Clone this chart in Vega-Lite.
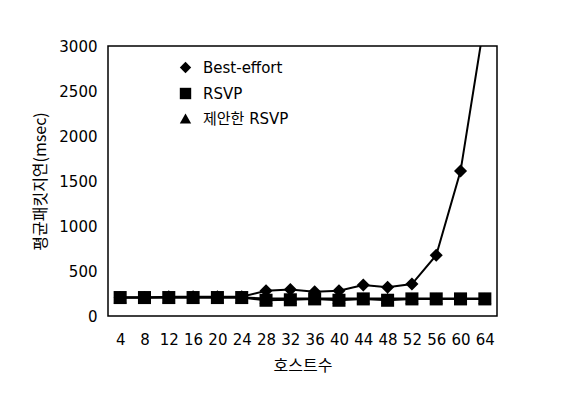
{
  "$schema": "https://vega.github.io/schema/vega-lite/v6.json",
  "width": 389,
  "height": 270,
  "autosize": "none",
  "padding": {"left": 108, "top": 46, "right": 65, "bottom": 91},
  "background": "white",
  "config": {
    "view": {"stroke": "black", "strokeWidth": 1.5},
    "font": "DejaVu Sans, Noto Sans CJK KR",
    "axis": {"grid": false, "domain": false, "ticks": false, "labelFont": "DejaVu Sans", "labelFontSize": 15, "labelColor": "black", "titleFont": "Noto Sans CJK KR", "titleFontSize": 16, "titleFontWeight": "normal", "titleColor": "black"}
  },
  "data": {
    "values": [
      {"hosts": 4, "series": "Best-effort", "delay": 205},
      {"hosts": 8, "series": "Best-effort", "delay": 205},
      {"hosts": 12, "series": "Best-effort", "delay": 215},
      {"hosts": 16, "series": "Best-effort", "delay": 215},
      {"hosts": 20, "series": "Best-effort", "delay": 215},
      {"hosts": 24, "series": "Best-effort", "delay": 215},
      {"hosts": 28, "series": "Best-effort", "delay": 280},
      {"hosts": 32, "series": "Best-effort", "delay": 295},
      {"hosts": 36, "series": "Best-effort", "delay": 270},
      {"hosts": 40, "series": "Best-effort", "delay": 280},
      {"hosts": 44, "series": "Best-effort", "delay": 345},
      {"hosts": 48, "series": "Best-effort", "delay": 320},
      {"hosts": 52, "series": "Best-effort", "delay": 355},
      {"hosts": 56, "series": "Best-effort", "delay": 675},
      {"hosts": 60, "series": "Best-effort", "delay": 1610},
      {"hosts": 64, "series": "Best-effort", "delay": 3300},
      {"hosts": 4, "series": "제안한 RSVP", "delay": 205},
      {"hosts": 8, "series": "제안한 RSVP", "delay": 205},
      {"hosts": 12, "series": "제안한 RSVP", "delay": 205},
      {"hosts": 16, "series": "제안한 RSVP", "delay": 205},
      {"hosts": 20, "series": "제안한 RSVP", "delay": 205},
      {"hosts": 24, "series": "제안한 RSVP", "delay": 205},
      {"hosts": 28, "series": "제안한 RSVP", "delay": 195},
      {"hosts": 32, "series": "제안한 RSVP", "delay": 195},
      {"hosts": 36, "series": "제안한 RSVP", "delay": 195},
      {"hosts": 40, "series": "제안한 RSVP", "delay": 195},
      {"hosts": 44, "series": "제안한 RSVP", "delay": 195},
      {"hosts": 48, "series": "제안한 RSVP", "delay": 195},
      {"hosts": 52, "series": "제안한 RSVP", "delay": 195},
      {"hosts": 56, "series": "제안한 RSVP", "delay": 195},
      {"hosts": 60, "series": "제안한 RSVP", "delay": 195},
      {"hosts": 64, "series": "제안한 RSVP", "delay": 195},
      {"hosts": 4, "series": "RSVP", "delay": 205},
      {"hosts": 8, "series": "RSVP", "delay": 205},
      {"hosts": 12, "series": "RSVP", "delay": 205},
      {"hosts": 16, "series": "RSVP", "delay": 205},
      {"hosts": 20, "series": "RSVP", "delay": 205},
      {"hosts": 24, "series": "RSVP", "delay": 205},
      {"hosts": 28, "series": "RSVP", "delay": 175},
      {"hosts": 32, "series": "RSVP", "delay": 180},
      {"hosts": 36, "series": "RSVP", "delay": 190},
      {"hosts": 40, "series": "RSVP", "delay": 175},
      {"hosts": 44, "series": "RSVP", "delay": 190},
      {"hosts": 48, "series": "RSVP", "delay": 175},
      {"hosts": 52, "series": "RSVP", "delay": 190},
      {"hosts": 56, "series": "RSVP", "delay": 190},
      {"hosts": 60, "series": "RSVP", "delay": 190},
      {"hosts": 64, "series": "RSVP", "delay": 190}
    ]
  },
  "encoding": {
    "x": {
      "field": "hosts", "type": "ordinal",
      "scale": {"type": "point", "padding": 0.5},
      "axis": {"labelAngle": 0, "labelPadding": 16, "title": "호스트수", "titlePadding": 10}
    },
    "y": {
      "field": "delay", "type": "quantitative",
      "scale": {"domain": [0, 3000]},
      "axis": {"values": [0, 500, 1000, 1500, 2000, 2500, 3000], "format": "d", "labelPadding": 11, "title": "평균패킷지연(msec)", "titlePadding": 10}
    }
  },
  "layer": [
    {
      "mark": {"type": "line", "color": "black", "strokeWidth": 2, "clip": true},
      "encoding": {"detail": {"field": "series"}}
    },
    {
      "mark": {"type": "point", "filled": true, "color": "black", "size": 170, "opacity": 1, "clip": true},
      "encoding": {
        "shape": {
          "field": "series", "type": "nominal",
          "scale": {"domain": ["Best-effort", "RSVP", "제안한 RSVP"], "range": ["diamond", "square", "triangle-up"]},
          "legend": {"title": null, "orient": "none", "legendX": 70, "legendY": 14, "labelFontSize": 15, "labelFont": "DejaVu Sans, Noto Sans CJK KR", "symbolFillColor": "black", "symbolStrokeColor": "black", "symbolSize": 130, "rowPadding": 7, "labelOffset": 10, "labelColor": "black"}
        }
      }
    }
  ]
}
